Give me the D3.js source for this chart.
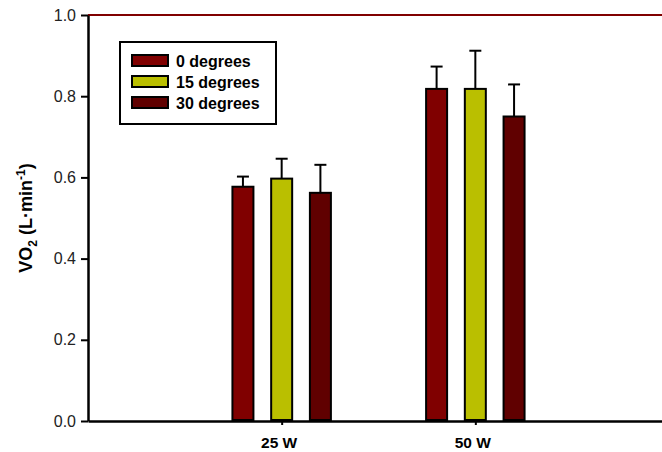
<!DOCTYPE html>
<html>
<head>
<meta charset="utf-8">
<script src="https://cdn.jsdelivr.net/npm/d3@7"></script>
<style>
  body { margin: 0; background: #fff; }
  svg { display: block; font-family: Arial, "Liberation Sans", sans-serif; }
</style>
</head>
<body>
<div id="chart"></div>
<script>
// chart data
const categories = ["25 W", "50 W"];
const seriesNames = ["0 degrees", "15 degrees", "30 degrees"];
const seriesColors = ["#800000", "#baBF00", "#600000"];
const means = [
  [0.577, 0.818],   // 0 degrees
  [0.597, 0.818],   // 15 degrees
  [0.562, 0.750]    // 30 degrees
];
const errors = [
  [0.025, 0.055],
  [0.049, 0.094],
  [0.069, 0.079]
];
const yTicks = [0.0, 0.2, 0.4, 0.6, 0.8, 1.0];

const width = 662, height = 452;
const svg = d3.select("#chart").append("svg")
    .attr("width", width)
    .attr("height", height);

// scales - categories sit at 1 and 2 on a 0..3 axis
const x = d3.scaleLinear().domain([0, 3]).range([88, 669]);
const y = d3.scaleLinear().domain([0, 1]).range([421, 15]);
const offset = 0.2;      // spacing between bars within a group (axis units)
const barW = 21;

// bars
seriesNames.forEach((name, s) => {
  const g = svg.append("g");
  categories.forEach((c, i) => {
    const cx = x(i + 1 + (s - 1) * offset);
    const v = means[s][i], e = errors[s][i];
    // error bar (upper only)
    g.append("line")
      .attr("x1", cx).attr("x2", cx)
      .attr("y1", y(v)).attr("y2", y(v + e))
      .attr("stroke", "#000").attr("stroke-width", 2);
    g.append("line")
      .attr("x1", cx - 6).attr("x2", cx + 6)
      .attr("y1", y(v + e)).attr("y2", y(v + e))
      .attr("stroke", "#000").attr("stroke-width", 2);
    g.append("rect")
      .attr("x", cx - barW / 2)
      .attr("y", y(v))
      .attr("width", barW)
      .attr("height", y(0) - y(v) - 1)
      .attr("fill", seriesColors[s])
      .attr("stroke", "#000")
      .attr("stroke-width", 2);
  });
});

// top frame line
svg.append("line")
  .attr("x1", 88).attr("x2", width)
  .attr("y1", y(1)).attr("y2", y(1))
  .attr("stroke", "#800000").attr("stroke-width", 2);

// y axis
const yAxis = svg.append("g")
  .attr("transform", "translate(88,0)")
  .call(d3.axisLeft(y).tickValues(yTicks).tickFormat(d3.format(".1f")).tickSize(7).tickSizeOuter(0));
yAxis.attr("font-size", null).attr("font-family", null);
yAxis.select(".domain").attr("stroke", "#000").attr("stroke-width", 2.5);
yAxis.selectAll(".tick line").attr("stroke", "#000").attr("stroke-width", 2);
yAxis.selectAll(".tick text")
  .attr("x", -12)
  .attr("font-size", 16)
  .attr("fill", "#222");

// x axis
const xAxis = svg.append("g")
  .attr("transform", `translate(0,${y(0)})`)
  .call(d3.axisBottom(x).tickValues([1, 2]).tickFormat((d) => categories[d - 1]).tickSize(4).tickSizeOuter(0));
xAxis.attr("font-size", null).attr("font-family", null);
xAxis.select(".domain").attr("stroke", "#000").attr("stroke-width", 2.5);
xAxis.selectAll(".tick line").attr("stroke", "#000").attr("stroke-width", 2);
xAxis.selectAll(".tick text")
  .attr("y", 16)
  .attr("dx", -3)
  .attr("font-size", 15.5)
  .attr("font-weight", "bold")
  .attr("fill", "#000");

// y axis title
const title = svg.append("text")
  .attr("transform", "translate(32,218) rotate(-90)")
  .attr("text-anchor", "middle")
  .attr("font-size", 18)
  .attr("font-weight", "bold")
  .attr("fill", "#000");
title.append("tspan").text("VO");
title.append("tspan").attr("font-size", 12).attr("dy", 5).text("2");
title.append("tspan").attr("dy", -5).text(" (L\u00b7min");
title.append("tspan").attr("font-size", 12).attr("dy", -7).text("-1");
title.append("tspan").attr("dy", 7).text(")");

// legend
const legend = svg.append("g");
legend.append("rect")
  .attr("x", 120).attr("y", 42)
  .attr("width", 156).attr("height", 82)
  .attr("fill", "#fff").attr("stroke", "#000").attr("stroke-width", 2);
seriesNames.forEach((name, s) => {
  const ly = 55 + s * 21;
  legend.append("rect")
    .attr("x", 132).attr("y", ly)
    .attr("width", 36).attr("height", 11)
    .attr("fill", seriesColors[s])
    .attr("stroke", "#000").attr("stroke-width", 2);
  legend.append("text")
    .attr("x", 176).attr("y", ly + 11.5)
    .attr("font-size", 16)
    .attr("font-weight", "bold")
    .text(name);
});
</script>
</body>
</html>
